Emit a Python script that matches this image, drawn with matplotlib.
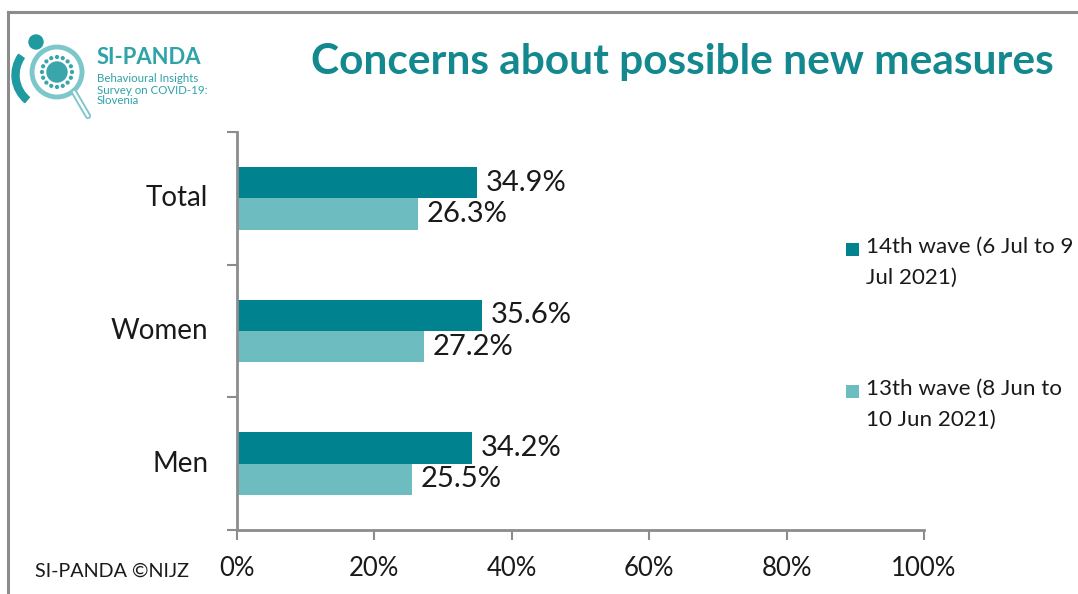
import math
import matplotlib.pyplot as plt
from matplotlib.patches import Rectangle, Circle, Wedge
from matplotlib.lines import Line2D

plt.rcParams['font.family'] = ['Lato', 'DejaVu Sans']

groups = ['Total', 'Women', 'Men']
wave14 = [34.9, 35.6, 34.2]
wave13 = [26.3, 27.2, 25.5]
legend_labels = ['14th wave (6 Jul to 9\nJul 2021)', '13th wave (8 Jun to\n10 Jun 2021)']
x_ticks = [0, 20, 40, 60, 80, 100]

dark = '#00838f'
light = '#6dbcc0'
teal_text = '#13898f'

W, H = 1078, 594
fig = plt.figure(figsize=(W / 100, H / 100), dpi=100)

def fx(px):
    return px / W

def fy(py):
    return 1 - py / H

# outer frame (top and left only show)
fig.add_artist(Line2D([fx(8), 1], [fy(12), fy(12)], color='#8c8c8c', lw=2.2))
fig.add_artist(Line2D([fx(8), fx(8)], [fy(12), 0], color='#8c8c8c', lw=2.2))

ax = fig.add_axes([fx(237), fy(530), fx(924) - fx(237), fy(132) - fy(530)])
pos = list(range(len(groups)))[::-1]
h = 0.235
ax.barh([p + h / 2 for p in pos], wave14, height=h, color=dark)
ax.barh([p - h / 2 for p in pos], wave13, height=h, color=light)

for p, v in zip(pos, wave14):
    ax.text(v + 1.3, p + h / 2, f'{v:.1f}%', va='center', ha='left', fontsize=21, color='#1a1a1a')
for p, v in zip(pos, wave13):
    ax.text(v + 1.3, p - h / 2, f'{v:.1f}%', va='center', ha='left', fontsize=21, color='#1a1a1a')

ax.set_xlim(0, 100)
ax.set_ylim(-0.5, 2.5)
ax.set_xticks(x_ticks)
ax.set_xticklabels([f'{t}%' for t in x_ticks], fontsize=18.5, color='#1a1a1a')
ax.set_yticks([-0.5, 0.5, 1.5, 2.5])
ax.set_yticklabels([])
for p, g in zip(pos, groups):
    ax.text(-4.2, p, g, ha='right', va='center', fontsize=20, color='#1a1a1a')
for s in ['top', 'right']:
    ax.spines[s].set_visible(False)
for s in ['left', 'bottom']:
    ax.spines[s].set_color('#8c8c8c')
    ax.spines[s].set_linewidth(2)
ax.tick_params(axis='x', length=7, width=1.5, color='#8c8c8c', pad=12)
ax.tick_params(axis='y', length=7, width=1.5, color='#8c8c8c')

# title
fig.text(fx(682), fy(62), 'Concerns about possible new measures', ha='center', va='center',
         fontsize=30.5, fontweight='bold', color=teal_text)

# legend
for i, (lab, c) in enumerate(zip(legend_labels, [dark, light])):
    ytop = 243 + i * 142
    fig.add_artist(Rectangle((fx(846), fy(ytop + 13)), fx(13), 13 / H, color=c, lw=0))
    fig.text(fx(866), fy(ytop - 6), lab, ha='left', va='top', fontsize=16.1,
             color='#1a1a1a', linespacing=1.65)

# footer
fig.text(fx(35), fy(571), 'SI-PANDA ©NIJZ', ha='left', va='center', fontsize=14.2, color='#1a1a1a')

# logo
lg = fig.add_axes([fx(8), fy(125), fx(92), 113 / H])
lg.set_xlim(8, 100)
lg.set_ylim(125, 12)
lg.set_aspect('equal')
lg.axis('off')
lg.add_patch(Circle((57, 72), 25, fill=False, ec='#7cc7ca', lw=3.5))
lg.add_artist(Line2D([74, 88], [92, 116], color='#7cc7ca', lw=4.5, solid_capstyle='round'))
lg.add_artist(Line2D([74, 88], [92, 116], color='white', lw=1.8, solid_capstyle='round'))
lg.add_patch(Circle((36, 42), 7, color='#1f9aa0'))
lg.add_patch(Wedge((48, 75), 36, 130, 215, width=7, color='#1f9aa0'))
lg.add_patch(Circle((57, 72), 10, color='#3aa5aa'))
for k in range(16):
    a = 2 * math.pi * k / 16
    lg.add_patch(Circle((57 + 15 * math.cos(a), 72 + 15 * math.sin(a)), 1.4, color='#3aa5aa'))
fig.text(fx(97), fy(58), 'SI-PANDA', ha='left', va='center', fontsize=15.8, fontweight='bold', color='#2ea3a8')
fig.text(fx(97), fy(90), 'Behavioural Insights\nSurvey on COVID-19:\nSlovenia', ha='left', va='center',
         fontsize=8.3, color='#2ea3a8', linespacing=1.0)

fig.savefig('out.png', dpi=100)
